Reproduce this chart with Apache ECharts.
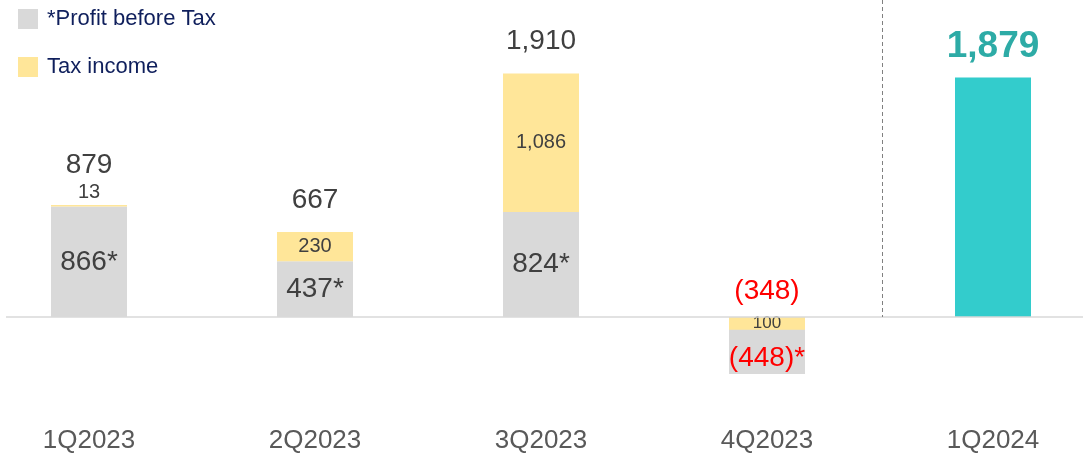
<!DOCTYPE html>
<html>
<head>
<meta charset="utf-8">
<script src="https://cdn.jsdelivr.net/npm/echarts@6/dist/echarts.min.js"></script>
<style>
  html, body { margin: 0; padding: 0; background: #ffffff; overflow: hidden; width: 1083px; height: 454px; }
  /* the category bands run past both page edges */
  #chart { position: absolute; left: -24px; top: 0; width: 1130px; height: 454px; }
</style>
</head>
<body>
<div id="chart"></div>
<script>
// Quarterly profit bridge: profit before tax + tax income = net profit
const quarters = ['1Q2023', '2Q2023', '3Q2023', '4Q2023', '1Q2024'];
const profitBeforeTax = [866, 437, 824, -448, null];
const taxIncome = [13, 230, 1086, 100, null];
const netProfit = [879, 667, 1910, -348, 1879];

const FONT = '"Liberation Sans", Arial, Helvetica, sans-serif';
const GREY = '#D9D9D9';
const YELLOW = '#FFE699';
const TEAL = '#33CCCC';
const TEAL_TEXT = '#2DABA6';
const RED = '#FF0000';
const TEXT = '#404040';
const SHIFT = 24; // chart canvas starts this far left of the page
const lastIdx = quarters.length - 1;

// Accounting style: negatives in parentheses, thousands separators
const fmt = v => {
  const s = Math.abs(v).toLocaleString('en-US');
  return v < 0 ? '(' + s + ')' : s;
};
// Segments too thin to hold their own label get it placed above
const thin = v => Math.abs(v) < 150;

const pbtData = profitBeforeTax.map(v => v == null ? '-' : {
  value: v,
  label: {
    formatter: fmt(v) + '*',
    color: v < 0 ? RED : TEXT,
    position: v < 0 ? 'insideBottom' : 'inside',
    distance: 2
  }
});

// Tax income stacked on top of a profit
const taxStacked = taxIncome.map((v, i) =>
  v != null && profitBeforeTax[i] >= 0 ? {
    value: v,
    label: { position: thin(v) ? 'top' : 'inside', distance: 2 }
  } : '-');

// Tax income offsetting part of a loss
const taxOffset = taxIncome.map((v, i) =>
  v != null && profitBeforeTax[i] < 0 ? { value: -v, label: { formatter: fmt(v) } } : '-');

// Net result labels above each quarter
const totalData = netProfit.map((v, i) => i === lastIdx ? '-' : {
  value: v,
  label: {
    color: v < 0 ? RED : TEXT,
    distance: (taxIncome[i] != null && profitBeforeTax[i] >= 0 && thin(taxIncome[i])) ? 26 : (v < 0 ? 12 : 18)
  }
});

const latestData = netProfit.map((v, i) => i === lastIdx ? v : '-');

const chart = echarts.init(document.getElementById('chart'), null, { renderer: 'canvas' });

const barBase = { type: 'bar', barWidth: 76, barGap: '-100%', animation: false };

chart.setOption({
  backgroundColor: '#ffffff',
  textStyle: { fontFamily: FONT },
  legend: {
    orient: 'vertical',
    left: 13 + SHIFT,
    top: 3,
    itemWidth: 20,
    itemHeight: 20,
    itemGap: 26,
    icon: 'rect',
    data: ['*Profit before Tax', 'Tax income'],
    textStyle: { color: '#0F1F5C', fontSize: 22, fontFamily: FONT, padding: [0, 0, 0, 4] },
    selectedMode: false
  },
  grid: { left: 0, right: 0, top: 62, bottom: 31 },
  xAxis: {
    type: 'category',
    data: quarters,
    axisLine: { show: false },
    axisTick: { show: false },
    axisLabel: { color: '#595959', fontSize: 26, fontFamily: FONT, margin: 9 }
  },
  yAxis: {
    type: 'value',
    min: -800,
    max: 2000,
    interval: 400,
    axisLine: { show: false },
    axisTick: { show: false },
    axisLabel: { show: false },
    splitLine: { show: false }
  },
  series: [
    Object.assign({}, barBase, {
      name: '*Profit before Tax',
      stack: 'bridge',
      itemStyle: { color: GREY },
      label: { show: true, fontSize: 28, fontFamily: FONT },
      data: pbtData
    }),
    Object.assign({}, barBase, {
      name: 'Tax income',
      stack: 'bridge',
      itemStyle: { color: YELLOW },
      label: {
        show: true, fontSize: 20, fontFamily: FONT, color: TEXT,
        formatter: p => fmt(p.value)
      },
      data: taxStacked
    }),
    Object.assign({}, barBase, {
      name: 'Tax income',
      stack: 'offset',
      itemStyle: { color: YELLOW },
      label: { show: true, position: 'inside', fontSize: 17, fontFamily: FONT, color: TEXT },
      data: taxOffset
    }),
    Object.assign({}, barBase, {
      name: 'Net profit',
      stack: 'net',
      silent: true,
      itemStyle: { color: 'rgba(0,0,0,0)' },
      label: {
        show: true, position: 'top', fontSize: 28, fontFamily: FONT,
        formatter: p => fmt(p.value)
      },
      data: totalData
    }),
    Object.assign({}, barBase, {
      name: '1Q2024',
      stack: 'latest',
      itemStyle: { color: TEAL },
      label: {
        show: true, position: 'top', distance: 12,
        fontSize: 37, fontWeight: 'bold', fontFamily: FONT, color: TEAL_TEXT,
        formatter: p => fmt(p.value)
      },
      data: latestData
    })
  ]
});

// Zero baseline and the divider before the latest quarter
const y0 = chart.convertToPixel({ yAxisIndex: 0 }, 0);
const xPrev = chart.convertToPixel({ xAxisIndex: 0 }, lastIdx - 1);
const xLast = chart.convertToPixel({ xAxisIndex: 0 }, lastIdx);
const xDiv = Math.round((xPrev + xLast) / 2) + 2.5;

chart.setOption({
  graphic: [
    {
      type: 'line', z: 100, silent: true,
      shape: { x1: 6 + SHIFT, y1: y0, x2: 1083 + SHIFT, y2: y0 },
      style: { stroke: '#D9D9D9', lineWidth: 1.5 }
    },
    {
      type: 'line', z: 100, silent: true,
      shape: { x1: xDiv, y1: 0, x2: xDiv, y2: y0 },
      style: { stroke: '#808080', lineWidth: 1, lineDash: [4, 3] }
    }
  ]
});
</script>
</body>
</html>
